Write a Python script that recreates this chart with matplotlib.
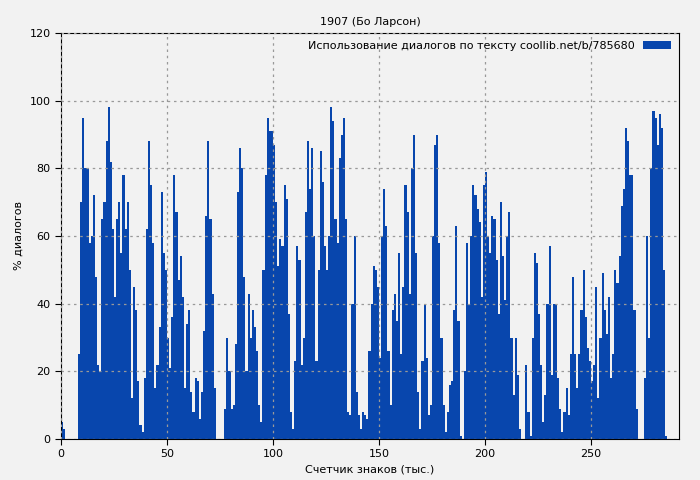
import numpy as np
import matplotlib.pyplot as plt

# % диалогов на каждую тысячу знаков (оценка по картинке)
pct = [
    5, 3, 0, 0, 0, 0, 0, 0, 25, 70, 95, 80, 80, 58, 60, 72, 48, 22, 20, 65,
    70, 88, 98, 82, 62, 42, 65, 70, 55, 78, 62, 70, 50, 12, 45, 38, 17, 4, 2, 18,
    62, 88, 75, 58, 15, 22, 33, 73, 55, 50, 30, 21, 36, 78, 67, 47, 54, 42, 15, 34,
    38, 14, 8, 18, 17, 6, 14, 32, 66, 88, 65, 43, 15, 0, 0, 0, 0, 9, 30, 20,
    9, 10, 28, 73, 86, 80, 48, 20, 43, 30, 38, 33, 26, 10, 5, 50, 78, 95, 91, 91,
    87, 70, 51, 59, 57, 75, 71, 37, 8, 3, 23, 57, 53, 22, 30, 67, 88, 74, 86, 60,
    23, 50, 85, 76, 57, 50, 60, 98, 94, 65, 58, 83, 90, 95, 65, 8, 7, 40, 60, 14,
    7, 3, 8, 7, 6, 26, 40, 51, 50, 45, 24, 60, 74, 63, 26, 10, 38, 43, 35, 55,
    25, 45, 75, 67, 43, 80, 90, 55, 14, 3, 23, 40, 24, 7, 10, 60, 87, 90, 58, 30,
    10, 2, 8, 16, 17, 38, 63, 35, 1, 0, 20, 58, 40, 60, 75, 72, 68, 64, 42, 75,
    79, 60, 55, 66, 65, 53, 37, 70, 54, 41, 60, 67, 30, 13, 30, 19, 3, 0, 0, 22,
    8, 1, 30, 55, 52, 37, 22, 5, 13, 40, 57, 19, 40, 40, 18, 9, 2, 8, 15, 7,
    25, 48, 25, 15, 25, 38, 50, 36, 27, 23, 17, 22, 45, 12, 30, 49, 38, 31, 42, 18,
    25, 50, 46, 54, 69, 74, 92, 88, 78, 78, 38, 9, 0, 0, 0, 18, 60, 30, 80, 97,
    95, 87, 96, 92, 50, 1,
]
x_thousands = np.arange(len(pct))

title = "1907 (Бо Ларсон)"
legend_label = "Использование диалогов по тексту coollib.net/b/785680"
bg = "#f2f2f2"
bar_color = "#0846ad"

fig, ax = plt.subplots(figsize=(7, 4.8), dpi=100)
fig.patch.set_facecolor(bg)
ax.set_facecolor(bg)
fig.subplots_adjust(left=61 / 700, right=679 / 700, top=1 - 33 / 480, bottom=1 - 439 / 480)

ax.bar(x_thousands, pct, width=1.0, align="edge", color=bar_color, linewidth=0,
       label=legend_label)

ax.set_xlim(0, 291.5)
ax.set_ylim(0, 120)
ax.set_xticks([0, 50, 100, 150, 200, 250])
ax.set_yticks(range(0, 121, 20))
ax.tick_params(labelsize=8, length=4)
ax.grid(True, linestyle=(0, (2, 3)), color="#999999", linewidth=0.9)
ax.set_axisbelow(False)

ax.set_title(title, fontsize=8)
ax.set_xlabel("Счетчик знаков (тыс.)", fontsize=8)
ax.set_ylabel("% диалогов", fontsize=8)

leg = ax.legend(loc="upper right", fontsize=8, frameon=False, markerfirst=False,
                handlelength=2.5, borderaxespad=0.3)

fig.savefig("out.png", dpi=100, facecolor=bg)
